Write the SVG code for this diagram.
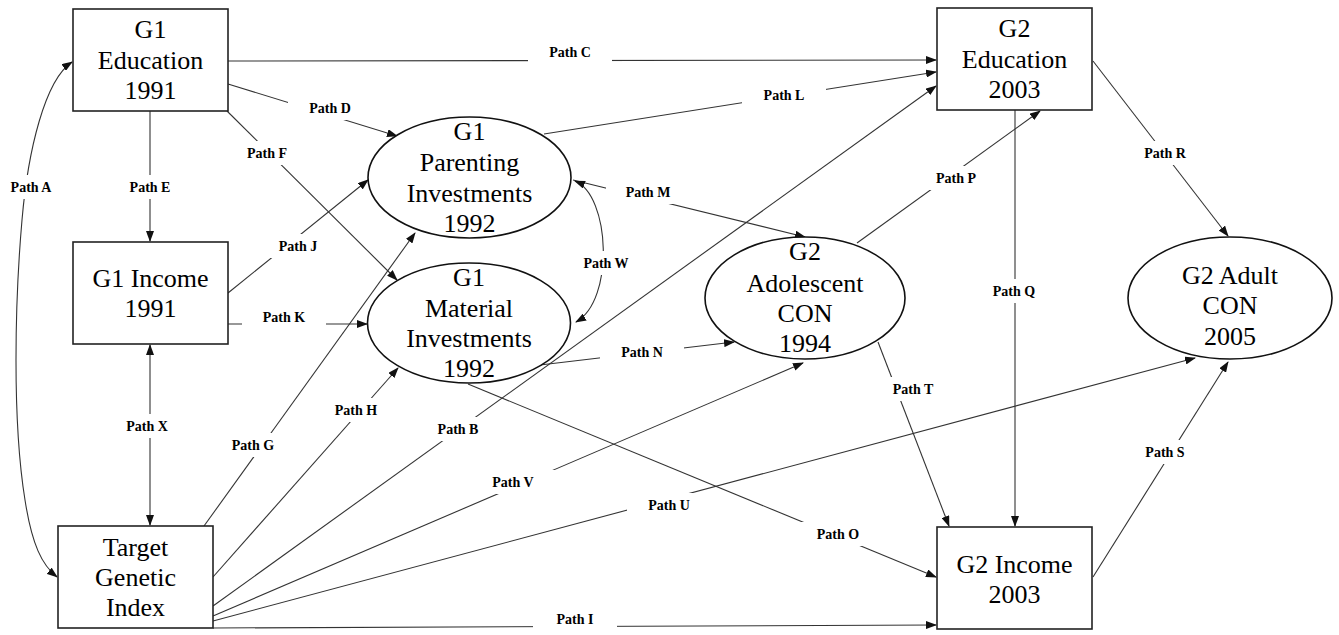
<svg xmlns="http://www.w3.org/2000/svg" width="1339" height="635" viewBox="0 0 1339 635">
<style>
.box{fill:#fff;stroke:#222;stroke-width:1.6}
.ell{fill:#fff;stroke:#111;stroke-width:1.6}
.nt{font-size:26px;fill:#000;text-anchor:middle}
.ln{fill:none;stroke:#333;stroke-width:1.1}
.lb{font-size:14px;font-weight:bold;fill:#000;text-anchor:middle}
.bg{fill:#fff}
</style>
<defs>
<marker id="ah" markerUnits="userSpaceOnUse" markerWidth="11" markerHeight="8" refX="10" refY="4" orient="auto-start-reverse">
<path d="M0,0 L11,4 L0,8 z" fill="#111"/>
</marker>
</defs>
<rect width="1339" height="635" fill="#fff"/>
<g id="connectors">
<path class="ln" d="M72,62 C45,80 28,150 22,220 C15,300 12,420 25,500 C32,545 42,565 57,577" marker-start="url(#ah)" marker-end="url(#ah)"/>
<line class="ln" x1="150" y1="111" x2="150" y2="241" marker-end="url(#ah)"/>
<line class="ln" x1="150" y1="345" x2="150" y2="525" marker-start="url(#ah)" marker-end="url(#ah)"/>
<line class="ln" x1="228" y1="61" x2="936" y2="60" marker-end="url(#ah)"/>
<line class="ln" x1="228" y1="84" x2="397" y2="136" marker-end="url(#ah)"/>
<line class="ln" x1="227" y1="111" x2="397" y2="280" marker-end="url(#ah)"/>
<line class="ln" x1="228" y1="293" x2="368" y2="180" marker-end="url(#ah)"/>
<line class="ln" x1="228" y1="324" x2="367" y2="324" marker-end="url(#ah)"/>
<line class="ln" x1="204" y1="526" x2="415" y2="233" marker-end="url(#ah)"/>
<line class="ln" x1="213" y1="577" x2="398" y2="368" marker-end="url(#ah)"/>
<line class="ln" x1="213" y1="606" x2="936" y2="86" marker-end="url(#ah)"/>
<line class="ln" x1="213" y1="616" x2="803" y2="363" marker-end="url(#ah)"/>
<line class="ln" x1="213" y1="621" x2="1195" y2="358" marker-end="url(#ah)"/>
<line class="ln" x1="213" y1="628" x2="936" y2="625" marker-end="url(#ah)"/>
<line class="ln" x1="544" y1="134" x2="936" y2="72" marker-end="url(#ah)"/>
<line class="ln" x1="573" y1="180" x2="805" y2="237" marker-end="url(#ah)"/>
<path class="ln" d="M575,181 C610,195 615,300 576,322" marker-start="url(#ah)" marker-end="url(#ah)"/>
<line class="ln" x1="540" y1="365" x2="734" y2="342" marker-end="url(#ah)"/>
<line class="ln" x1="468" y1="384" x2="936" y2="577" marker-end="url(#ah)"/>
<line class="ln" x1="857" y1="243" x2="1040" y2="111" marker-end="url(#ah)"/>
<line class="ln" x1="1015" y1="110" x2="1015" y2="526" marker-end="url(#ah)"/>
<line class="ln" x1="1093" y1="61" x2="1228" y2="236" marker-end="url(#ah)"/>
<line class="ln" x1="1093" y1="577" x2="1228" y2="362" marker-end="url(#ah)"/>
<line class="ln" x1="878" y1="342" x2="949" y2="526" marker-end="url(#ah)"/>
<g id="labels">
<rect class="bg" x="-11" y="175" width="84" height="24"/><text class="lb" font-family="Liberation Serif" x="31" y="192">Path A</text>
<rect class="bg" x="108" y="175" width="84" height="24"/><text class="lb" font-family="Liberation Serif" x="150" y="192">Path E</text>
<rect class="bg" x="288" y="96" width="84" height="24"/><text class="lb" font-family="Liberation Serif" x="330" y="113">Path D</text>
<rect class="bg" x="225" y="141" width="84" height="24"/><text class="lb" font-family="Liberation Serif" x="267" y="158">Path F</text>
<rect class="bg" x="256" y="234" width="84" height="24"/><text class="lb" font-family="Liberation Serif" x="298" y="251">Path J</text>
<rect class="bg" x="242" y="305" width="84" height="24"/><text class="lb" font-family="Liberation Serif" x="284" y="322">Path K</text>
<rect class="bg" x="105" y="414" width="84" height="24"/><text class="lb" font-family="Liberation Serif" x="147" y="431">Path X</text>
<rect class="bg" x="211" y="433" width="84" height="24"/><text class="lb" font-family="Liberation Serif" x="253" y="450">Path G</text>
<rect class="bg" x="314" y="398" width="84" height="24"/><text class="lb" font-family="Liberation Serif" x="356" y="415">Path H</text>
<rect class="bg" x="528" y="40" width="84" height="24"/><text class="lb" font-family="Liberation Serif" x="570" y="57">Path C</text>
<rect class="bg" x="742" y="83" width="84" height="24"/><text class="lb" font-family="Liberation Serif" x="784" y="100">Path L</text>
<rect class="bg" x="606" y="180" width="80" height="24"/><text class="lb" font-family="Liberation Serif" x="648" y="197">Path M</text>
<rect class="bg" x="578" y="251" width="56" height="24"/><text class="lb" font-family="Liberation Serif" x="606" y="268">Path W</text>
<rect class="bg" x="600" y="340" width="84" height="24"/><text class="lb" font-family="Liberation Serif" x="642" y="357">Path N</text>
<rect class="bg" x="416" y="417" width="84" height="24"/><text class="lb" font-family="Liberation Serif" x="458" y="434">Path B</text>
<rect class="bg" x="471" y="470" width="84" height="24"/><text class="lb" font-family="Liberation Serif" x="513" y="487">Path V</text>
<rect class="bg" x="627" y="493" width="84" height="24"/><text class="lb" font-family="Liberation Serif" x="669" y="510">Path U</text>
<rect class="bg" x="796" y="522" width="84" height="24"/><text class="lb" font-family="Liberation Serif" x="838" y="539">Path O</text>
<rect class="bg" x="533" y="607" width="84" height="24"/><text class="lb" font-family="Liberation Serif" x="575" y="624">Path I</text>
<rect class="bg" x="1123" y="141" width="84" height="24"/><text class="lb" font-family="Liberation Serif" x="1165" y="158">Path R</text>
<rect class="bg" x="914" y="166" width="84" height="24"/><text class="lb" font-family="Liberation Serif" x="956" y="183">Path P</text>
<rect class="bg" x="990" y="279" width="50" height="24"/><text class="lb" font-family="Liberation Serif" x="1014" y="296">Path Q</text>
<rect class="bg" x="871" y="377" width="84" height="24"/><text class="lb" font-family="Liberation Serif" x="913" y="394">Path T</text>
<rect class="bg" x="1123" y="440" width="84" height="24"/><text class="lb" font-family="Liberation Serif" x="1165" y="457">Path S</text>
</g>
</g>
<g id="g1-education"><rect class="box" x="73" y="9" width="155" height="102"/><text class="nt" font-family="Liberation Serif" x="150.5" y="38">G1</text><text class="nt" font-family="Liberation Serif" x="150.5" y="69">Education</text><text class="nt" font-family="Liberation Serif" x="150.5" y="99">1991</text></g>
<g id="g1-income"><rect class="box" x="73" y="242" width="155" height="102"/><text class="nt" font-family="Liberation Serif" x="150.5" y="287">G1 Income</text><text class="nt" font-family="Liberation Serif" x="150.5" y="317">1991</text></g>
<g id="target-genetic-index"><rect class="box" x="58" y="526" width="155" height="102"/><text class="nt" font-family="Liberation Serif" x="135.5" y="556">Target</text><text class="nt" font-family="Liberation Serif" x="135.5" y="586">Genetic</text><text class="nt" font-family="Liberation Serif" x="135.5" y="616">Index</text></g>
<g id="g2-education"><rect class="box" x="937" y="8" width="155" height="102"/><text class="nt" font-family="Liberation Serif" x="1014.5" y="37">G2</text><text class="nt" font-family="Liberation Serif" x="1014.5" y="68">Education</text><text class="nt" font-family="Liberation Serif" x="1014.5" y="98">2003</text></g>
<g id="g2-income"><rect class="box" x="937" y="527" width="155" height="102"/><text class="nt" font-family="Liberation Serif" x="1014.5" y="573">G2 Income</text><text class="nt" font-family="Liberation Serif" x="1014.5" y="603">2003</text></g>
<g id="g1-parenting"><ellipse class="ell" cx="469.5" cy="177.5" rx="101.5" ry="60.5"/><text class="nt" font-family="Liberation Serif" x="469.5" y="140">G1</text><text class="nt" font-family="Liberation Serif" x="469.5" y="171">Parenting</text><text class="nt" font-family="Liberation Serif" x="469.5" y="202">Investments</text><text class="nt" font-family="Liberation Serif" x="469.5" y="232">1992</text></g>
<g id="g1-material"><ellipse class="ell" cx="469" cy="323" rx="101.5" ry="60"/><text class="nt" font-family="Liberation Serif" x="469" y="286">G1</text><text class="nt" font-family="Liberation Serif" x="469" y="317">Material</text><text class="nt" font-family="Liberation Serif" x="469" y="347">Investments</text><text class="nt" font-family="Liberation Serif" x="469" y="377">1992</text></g>
<g id="g2-adolescent-con"><ellipse class="ell" cx="805" cy="298" rx="100" ry="61"/><text class="nt" font-family="Liberation Serif" x="805" y="260">G2</text><text class="nt" font-family="Liberation Serif" x="805" y="292">Adolescent</text><text class="nt" font-family="Liberation Serif" x="805" y="322">CON</text><text class="nt" font-family="Liberation Serif" x="805" y="352">1994</text></g>
<g id="g2-adult-con"><ellipse class="ell" cx="1230" cy="298" rx="102" ry="61"/><text class="nt" font-family="Liberation Serif" x="1230" y="284">G2 Adult</text><text class="nt" font-family="Liberation Serif" x="1230" y="314">CON</text><text class="nt" font-family="Liberation Serif" x="1230" y="345">2005</text></g>
</svg>
